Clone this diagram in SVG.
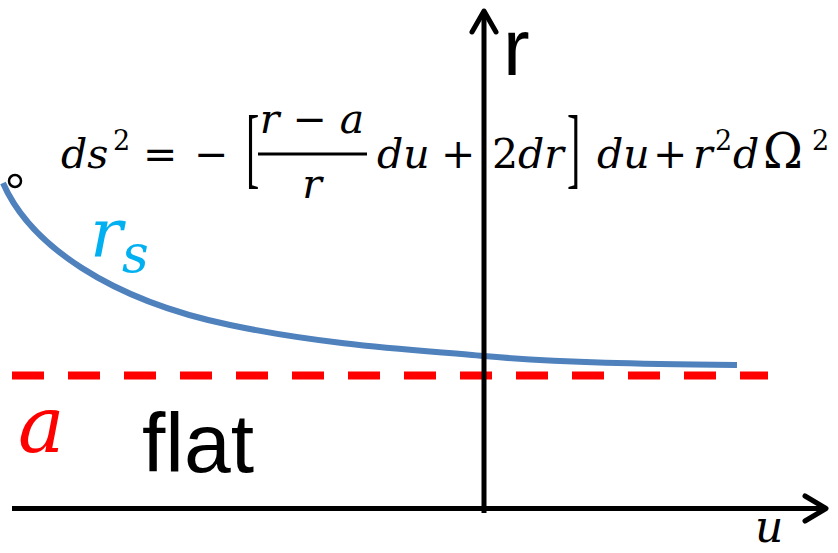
<svg xmlns="http://www.w3.org/2000/svg" width="838" height="553" viewBox="0 0 838 553">
<style>
.ax{stroke:#000;stroke-width:5;fill:none}
.hd{stroke:#000;stroke-width:5;fill:none;stroke-linecap:round;stroke-linejoin:round}
.m{font-family:"DejaVu Serif","Liberation Serif",serif;font-style:italic;font-size:41px;fill:#000}
.u{font-family:"DejaVu Serif","Liberation Serif",serif;font-size:41px;fill:#000}
.br{font-family:"Liberation Serif",serif;font-size:40px;fill:#000}
.sup{font-family:"DejaVu Serif","Liberation Serif",serif;font-size:27px;fill:#000}
.s{font-family:"Liberation Sans",Arial,sans-serif;fill:#000}
</style>
<rect width="838" height="553" fill="#fff"/>
<g id="asymptote">
<line x1="12" y1="375.5" x2="768" y2="375.5" stroke="#ff0000" stroke-width="8" stroke-dasharray="32 24"/>
</g>
<g id="curve">
<path d="M3,183 C30,245 110,300 230,325 C330,346 420,350 484,356 C560,363 650,364 737,365" fill="none" stroke="#4f81bd" stroke-width="6"/>
<circle cx="15" cy="181" r="6" fill="#fff" stroke="#000" stroke-width="2.5"/>
</g>
<g id="axes">
<line class="ax" x1="12" y1="508.5" x2="825" y2="508.5"/>
<polyline class="hd" points="805,496 826,508.5 805,521"/>
<line class="ax" x1="484" y1="513" x2="484" y2="12"/>
<polyline class="hd" points="472,32 484,11 496,32"/>
</g>
<g id="labels">
<text class="s" x="503" y="75" font-size="80">r</text>
<text class="m" x="755" y="542" style="font-size:44px">u</text>
<text class="s" x="142" y="472" font-size="84">flat</text>
<text x="18" y="452" font-family="DejaVu Serif,Liberation Serif,serif" font-style="italic" font-size="78" fill="#ff0000">a</text>
<text x="90" y="257" font-family="DejaVu Serif,Liberation Serif,serif" font-style="italic" font-size="68" fill="#00b0f0">r</text>
<text x="122" y="272" font-family="DejaVu Serif,Liberation Serif,serif" font-style="italic" font-size="52" fill="#00b0f0">s</text>
</g>
<g id="equation">
<text class="m" x="61" y="168">ds</text>
<text class="sup" x="113" y="150">2</text>
<text class="u" x="143" y="168">=</text>
<text class="u" x="194" y="168">−</text>
<text class="br" transform="translate(246,177) scale(1,2.2)" x="0" y="0">[</text>
<text class="m" x="312" y="133" text-anchor="middle">r <tspan font-style="normal">−</tspan> a</text>
<line x1="258" y1="154" x2="367" y2="154" stroke="#000" stroke-width="3"/>
<text class="m" x="312" y="198" text-anchor="middle">r</text>
<text class="m" x="377" y="168">du</text>
<text class="u" x="441" y="168">+</text>
<text class="u" x="492" y="168">2<tspan font-style="italic">dr</tspan></text>
<text class="br" transform="translate(567,177) scale(1,2.2)" x="0" y="0">]</text>
<text class="m" x="597" y="168">du</text>
<text class="u" x="653" y="168">+</text>
<text class="m" x="693" y="168">r</text>
<text class="sup" x="715" y="150">2</text>
<text class="m" x="733" y="168">d</text>
<text class="u" x="763" y="168" style="font-size:48px">Ω</text>
<text class="sup" x="812" y="150">2</text>
</g>
</svg>
